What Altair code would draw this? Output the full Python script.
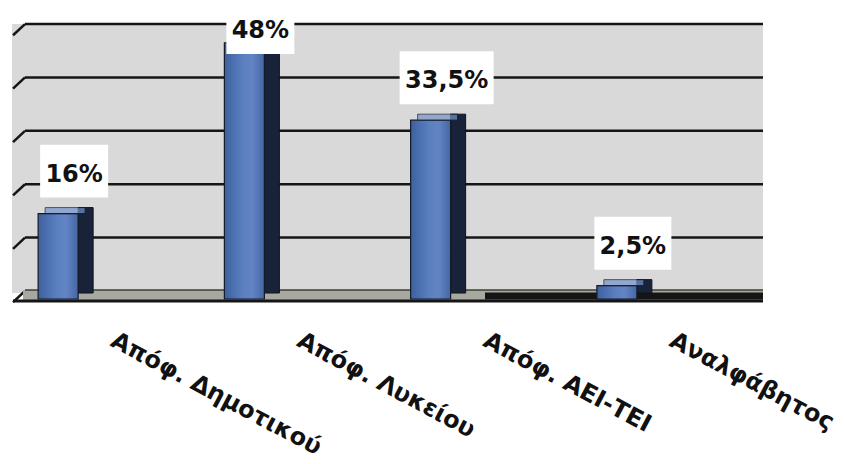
import altair as alt
import pandas as pd

categories = ["Απόφ. Δημοτικού", "Απόφ. Λυκείου", "Απόφ. ΑΕΙ-ΤΕΙ", "Αναλφάβητος"]
values = [16, 48, 33.5, 2.5]
value_labels = ["16%", "48%", "33,5%", "2,5%"]
grid_values = [0, 10, 20, 30, 40, 50]

W, H = 745, 276
YMAX = 51.7

bars = pd.DataFrame({"cat": categories, "value": values, "label": value_labels})
grid = pd.DataFrame({"g": grid_values})
one = pd.DataFrame({"a": [0]})

xs = alt.Scale(domain=categories, paddingInner=0, paddingOuter=0)
ys = alt.Scale(domain=[0, YMAX], nice=False, zero=False)

X = alt.X("cat:N", scale=xs, sort=categories,
          axis=alt.Axis(title=None, ticks=False, domain=False, labelAngle=28,
                        labelAlign="left", labelBaseline="top", labelPadding=29,
                        labelOffset=10,
                        labelFont="DejaVu Sans", labelFontWeight="bold",
                        labelFontSize=24, labelColor="#111111", labelLimit=400))

wall = alt.Chart(one).mark_rect(color="#d9d9d9").encode(
    x=alt.value(-3), x2=alt.value(748), y=alt.value(1), y2=alt.value(H - 6))

gridlines = alt.Chart(grid).transform_filter("datum.g > 0").mark_rule(
    color="#151515", strokeWidth=2.5, yOffset=-8).encode(
    x=alt.value(10), x2=alt.value(748),
    y=alt.Y("g:Q", scale=ys, axis=None))

slants = alt.Chart(grid).transform_calculate(glo="datum.g - 2.1").mark_rule(
    color="#151515", strokeWidth=2.5, yOffset=-8, y2Offset=-8).encode(
    x=alt.value(-2), x2=alt.value(10),
    y=alt.Y("glo:Q", scale=ys, axis=None), y2="g:Q")

floor = alt.Chart(grid).transform_filter("datum.g == 0").mark_rule(
    color="#a7a9a1", strokeWidth=10, yOffset=-4).encode(
    x=alt.value(8), x2=alt.value(748), y=alt.Y("g:Q", scale=ys, axis=None))
floor_top = alt.Chart(grid).transform_filter("datum.g == 0").mark_rule(
    color="#3a4236", strokeWidth=1.5, yOffset=-9).encode(
    x=alt.value(10), x2=alt.value(748), y=alt.Y("g:Q", scale=ys, axis=None))
floor_edge = alt.Chart(grid).transform_filter("datum.g == 0").mark_rule(
    color="#151515", strokeWidth=3, yOffset=2).encode(
    x=alt.value(-2), x2=alt.value(748), y=alt.Y("g:Q", scale=ys, axis=None))
floor_dark = alt.Chart(grid).transform_filter("datum.g == 0").mark_rule(
    color="#151515", strokeWidth=7, yOffset=-3).encode(
    x=alt.value(470), x2=alt.value(748), y=alt.Y("g:Q", scale=ys, axis=None))

front_grad = alt.Gradient(
    gradient="linear", x1=0, x2=1, y1=0, y2=0,
    stops=[alt.GradientStop(color="#3d609e", offset=0),
           alt.GradientStop(color="#5a7fc0", offset=0.45),
           alt.GradientStop(color="#6384c4", offset=0.7),
           alt.GradientStop(color="#4466a4", offset=1)])

side = alt.Chart(bars).mark_bar(
    width=15, xOffset=-22.5, yOffset=-6, y2Offset=-6, color="#18233a",
    stroke="#0e121a", strokeWidth=1).encode(
    x=X, y=alt.Y("value:Q", scale=ys, axis=None))

front = alt.Chart(bars).mark_bar(
    width=40, xOffset=-50, color=front_grad, stroke="#141b28",
    strokeWidth=1.2).encode(
    x=X, y=alt.Y("value:Q", scale=ys, axis=None))

top = alt.Chart(bars).mark_tick(
    thickness=6, size=40, xOffset=-43, yOffset=-3, color="#7393cc",
    stroke="#141b28", strokeWidth=1).encode(
    x=X, y=alt.Y("value:Q", scale=ys, axis=None))

lab = alt.Chart(bars).transform_calculate(
    ly="min(datum.value + 6, 48.9)",
    blo="min(datum.value + 6, 48.9) - 3.0",
    bhi="min(datum.value + 6, 48.9) + 6.9",
    bw="17 * (length(datum.label) - 1) + 34 - (indexof(datum.label, ',') >= 0 ? 8 : 0)")

boxes = lab.mark_rule(color="white", strokeCap="butt", xOffset=-34).encode(
    x=X, y=alt.Y("blo:Q", scale=ys, axis=None), y2="bhi:Q",
    strokeWidth=alt.StrokeWidth("bw:Q", scale=None, legend=None))

texts = lab.mark_text(font="DejaVu Sans", fontWeight="bold", fontSize=24,
                      baseline="alphabetic", align="center", xOffset=-34,
                      color="#111111").encode(
    x=X, y=alt.Y("ly:Q", scale=ys, axis=None), text="label:N")

chart = alt.layer(
    wall, gridlines, slants, floor, floor_top, floor_edge, floor_dark,
    side, front, top, boxes, texts
).properties(
    width=W, height=H,
    padding={"left": 15, "top": 23, "right": 85, "bottom": 165},
    autosize=alt.AutoSizeParams(type="none"),
    background="white"
).configure_view(stroke=None, clip=False)

chart.save("out.html", embed_options={"renderer": "svg", "actions": False})
